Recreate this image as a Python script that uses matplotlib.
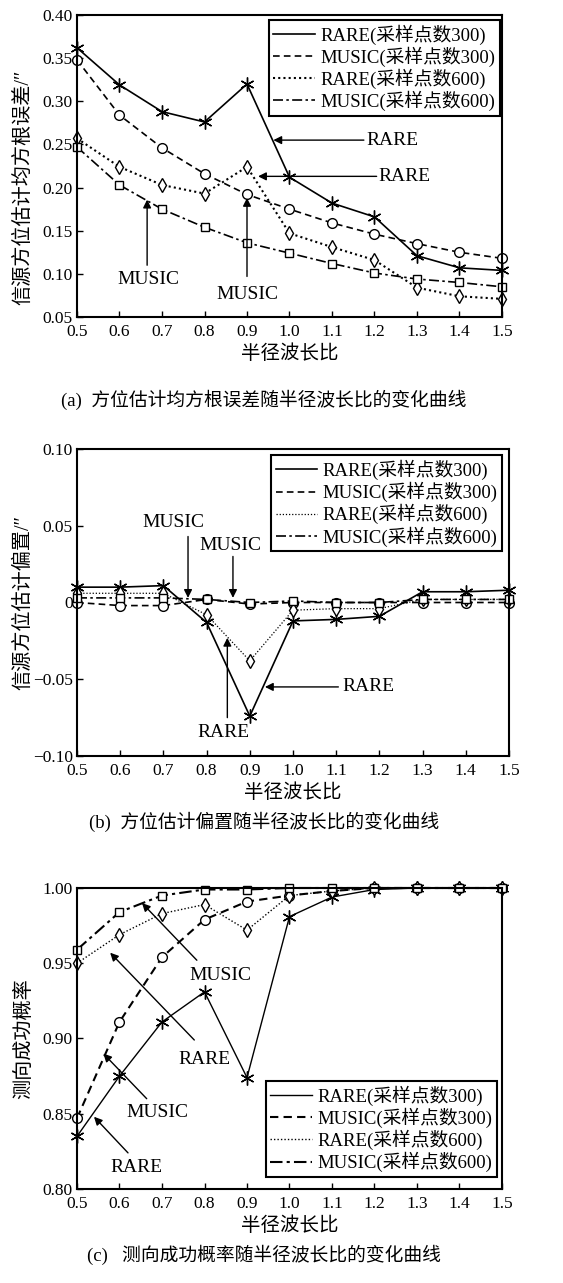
import matplotlib.pyplot as plt
from matplotlib.lines import Line2D

plt.rcParams['font.family'] = ['Liberation Serif', 'Noto Sans CJK SC']
plt.rcParams['axes.unicode_minus'] = True

ratio = [0.5, 0.6, 0.7, 0.8, 0.9, 1.0, 1.1, 1.2, 1.3, 1.4, 1.5]
series_names = ['RARE(采样点数300)', 'MUSIC(采样点数300)', 'RARE(采样点数600)', 'MUSIC(采样点数600)']

# (a) RMSE
rmse_rare300 = [0.362, 0.319, 0.288, 0.276, 0.320, 0.212, 0.182, 0.166, 0.121, 0.107, 0.104]
rmse_music300 = [0.348, 0.284, 0.246, 0.216, 0.192, 0.175, 0.159, 0.146, 0.135, 0.125, 0.118]
rmse_rare600 = [0.257, 0.224, 0.203, 0.193, 0.224, 0.147, 0.131, 0.116, 0.084, 0.074, 0.071]
rmse_music600 = [0.247, 0.203, 0.175, 0.154, 0.136, 0.124, 0.112, 0.101, 0.094, 0.090, 0.085]

# (b) bias
bias_rare300 = [0.010, 0.010, 0.011, -0.013, -0.074, -0.012, -0.011, -0.009, 0.007, 0.007, 0.008]
bias_music300 = [0.000, -0.002, -0.002, 0.002, -0.001, 0.000, 0.000, 0.000, 0.000, 0.000, 0.000]
bias_rare600 = [0.006, 0.006, 0.006, -0.008, -0.038, -0.005, -0.004, -0.004, 0.002, 0.002, 0.002]
bias_music600 = [0.003, 0.003, 0.003, 0.002, 0.000, 0.001, 0.000, 0.000, 0.002, 0.002, 0.002]

# (c) success probability
prob_rare300 = [0.835, 0.875, 0.911, 0.931, 0.874, 0.981, 0.994, 0.999, 1.000, 1.000, 1.000]
prob_music300 = [0.847, 0.911, 0.954, 0.979, 0.991, 0.995, 0.998, 1.000, 1.000, 1.000, 1.000]
prob_rare600 = [0.950, 0.969, 0.983, 0.989, 0.972, 0.995, 0.998, 1.000, 1.000, 1.000, 1.000]
prob_music600 = [0.959, 0.984, 0.995, 0.999, 0.999, 1.000, 1.000, 1.000, 1.000, 1.000, 1.000]

styles = [
    dict(ls='-', marker=(6, 2, 0), ms=10),
    dict(ls=(0, (4, 2.5)), marker='o', ms=7),
    dict(ls=(0, (1, 1.5)), marker='d', ms=7),
    dict(ls=(0, (6, 2, 1.5, 2)), marker='s', ms=6),
]

W, H = 563, 1283
fig = plt.figure(figsize=(W / 100, H / 100), dpi=100)


def px_axes(l, r, t, b):
    return fig.add_axes([l / W, 1 - b / H, (r - l) / W, (b - t) / H])


def draw(ax, ys, lw_list):
    for y, st, lw in zip(ys, styles, lw_list):
        ax.plot(ratio, y, color='k', lw=lw, ls=st['ls'], marker=st['marker'], ms=st['ms'],
                mfc='white', mec='k', mew=1.0, clip_on=False)
    ax.set_xlim(0.5, 1.5)
    ax.set_xticks(ratio)
    ax.set_xticklabels([f'{v:.1f}' for v in ratio])
    ax.tick_params(direction='in', labelsize=12.5, length=4, width=1)
    ax.tick_params(axis='x', pad=5)
    ax.tick_params(axis='y', pad=3)
    for s in ax.spines.values():
        s.set_linewidth(1.5)
    ax.set_xlabel('半径波长比', fontsize=14, labelpad=3)


def legend(ax, lw_list, **kw):
    handles = [Line2D([], [], color='k', lw=lw, ls=st['ls']) for st, lw in zip(styles, lw_list)]
    leg = ax.legend(handles, series_names, fontsize=13.5, handlelength=2.2, handletextpad=0.3,
                    labelspacing=0.1, borderpad=0.25, borderaxespad=0, fancybox=False,
                    framealpha=1, edgecolor='k', **kw)
    leg.get_frame().set_linewidth(1.5)


def arrow(ax, tail, head):
    ax.annotate('', xy=head, xytext=tail,
                arrowprops=dict(arrowstyle='-|>', color='k', lw=1.0, mutation_scale=12,
                                shrinkA=0, shrinkB=0))


def label(ax, x, y, s, ha='center'):
    ax.text(x, y, s, ha=ha, va='center', fontsize=14)


# ---- (a)
ax = px_axes(77, 502, 15, 317)
lw_a = [1.2, 1.2, 1.5, 1.2]
draw(ax, [rmse_rare300, rmse_music300, rmse_rare600, rmse_music600], lw_a)
ax.set_ylim(0.05, 0.40)
yt = [0.05, 0.10, 0.15, 0.20, 0.25, 0.30, 0.35, 0.40]
ax.set_yticks(yt)
ax.set_yticklabels([f'{v:.2f}' for v in yt])
ax.set_ylabel('信源方位估计均方根误差/″', fontsize=14.5)
ax.yaxis.set_label_coords(-0.102, 0.43)
legend(ax, lw_a, loc='upper right', bbox_to_anchor=(0.995, 0.985))
arrow(ax, (1.175, 0.255), (0.962, 0.255))
label(ax, 1.18, 0.255, 'RARE', ha='left')
arrow(ax, (1.205, 0.213), (0.926, 0.213))
label(ax, 1.21, 0.213, 'RARE', ha='left')
arrow(ax, (0.665, 0.110), (0.665, 0.186))
label(ax, 0.667, 0.093, 'MUSIC')
arrow(ax, (0.90, 0.097), (0.90, 0.188))
label(ax, 0.90, 0.076, 'MUSIC')
fig.text(264 / W, 1 - 400 / H, '(a)  方位估计均方根误差随半径波长比的变化曲线',
         ha='center', va='center', fontsize=13.5)

# ---- (b)
ax = px_axes(77, 509, 449, 756)
lw_b = [1.2, 1.2, 0.9, 1.2]
draw(ax, [bias_rare300, bias_music300, bias_rare600, bias_music600], lw_b)
ax.set_ylim(-0.10, 0.10)
ax.set_yticks([-0.10, -0.05, 0, 0.05, 0.10])
ax.set_yticklabels(['\u22120.10', '\u22120.05', '0', '0.05', '0.10'])
ax.set_ylabel('信源方位估计偏置/″', fontsize=14.5)
ax.yaxis.set_label_coords(-0.100, 0.5)
legend(ax, lw_b, loc='upper right', bbox_to_anchor=(0.984, 0.98))
label(ax, 0.722, 0.052, 'MUSIC')
arrow(ax, (0.757, 0.043), (0.757, 0.003))
label(ax, 0.856, 0.037, 'MUSIC')
arrow(ax, (0.861, 0.030), (0.861, 0.003))
label(ax, 0.84, -0.085, 'RARE')
arrow(ax, (0.848, -0.075), (0.848, -0.023))
arrow(ax, (1.105, -0.055), (0.935, -0.055))
label(ax, 1.115, -0.055, 'RARE', ha='left')
fig.text(264 / W, 1 - 822 / H, '(b)  方位估计偏置随半径波长比的变化曲线',
         ha='center', va='center', fontsize=13.5)

# ---- (c)
ax = px_axes(77, 502, 888, 1189)
lw_c = [1.0, 1.5, 1.0, 1.5]
draw(ax, [prob_rare300, prob_music300, prob_rare600, prob_music600], lw_c)
ax.set_ylim(0.80, 1.00)
yt = [0.80, 0.85, 0.90, 0.95, 1.00]
ax.set_yticks(yt)
ax.set_yticklabels([f'{v:.2f}' for v in yt])
ax.set_ylabel('测向成功概率', fontsize=14.5)
ax.yaxis.set_label_coords(-0.102, 0.5)
legend(ax, lw_c, loc='lower right', bbox_to_anchor=(0.988, 0.04))
label(ax, 0.837, 0.942, 'MUSIC')
arrow(ax, (0.782, 0.952), (0.653, 0.990))
label(ax, 0.80, 0.886, 'RARE')
arrow(ax, (0.776, 0.899), (0.578, 0.957))
label(ax, 0.688, 0.851, 'MUSIC')
arrow(ax, (0.664, 0.860), (0.562, 0.890))
label(ax, 0.641, 0.814, 'RARE')
arrow(ax, (0.62, 0.824), (0.54, 0.848))
fig.text(264 / W, 1 - 1255 / H, '(c)   测向成功概率随半径波长比的变化曲线',
         ha='center', va='center', fontsize=13.5)

fig.savefig('out.png', dpi=100)
